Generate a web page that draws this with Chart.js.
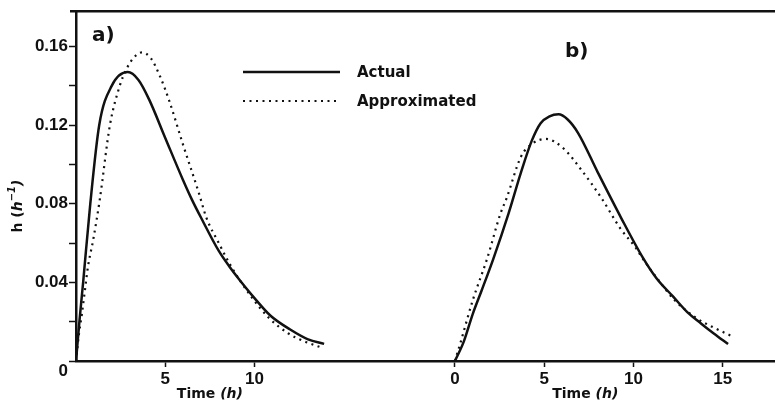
<!DOCTYPE html>
<html>
<head>
<meta charset="utf-8">
<script src="https://cdn.jsdelivr.net/npm/chart.js@4"></script>
<style>
  html, body { margin: 0; padding: 0; background: #fff; }
  #wrap { width: 775px; height: 405px; }
</style>
</head>
<body>
<div id="wrap"><canvas id="hazardChart"></canvas></div>
<script>
// panel a) - time (h) and h (1/h)
const timeActualA = [0, 0.2, 0.4, 0.8, 1.3, 2.0, 2.9, 3.5, 4.1, 5, 6, 6.5, 7, 8, 8.6, 9.1, 10, 10.9, 12, 13, 13.9];
const actualA     = [0, 0.021, 0.04, 0.08, 0.12, 0.14, 0.147, 0.143, 0.133, 0.1135, 0.092, 0.082, 0.073, 0.056, 0.048, 0.042, 0.032, 0.023, 0.016, 0.011, 0.0087];
const timeApproxA = [0, 0.17, 0.33, 0.5, 0.67, 0.96, 1.33, 1.9, 2.45, 2.8, 3.2, 3.7, 4.2, 4.7, 5.2, 6.0, 6.9, 7.3, 8.0, 8.7, 9.8, 10.8, 11.9, 12.8, 13.7];
const approxA     = [0, 0.014, 0.024, 0.036, 0.048, 0.0615, 0.082, 0.12, 0.14, 0.148, 0.154, 0.157, 0.154, 0.145, 0.133, 0.11, 0.085, 0.073, 0.06, 0.048, 0.033, 0.022, 0.014, 0.010, 0.007];

// panel b)
const timeActualB = [0, 0.5, 1.0, 1.5, 2.15, 3.0, 3.7, 4.3, 4.8, 5.3, 5.8, 6.3, 6.9, 8.0, 9.3, 10.5, 11.3, 12.2, 13.0, 13.8, 14.5, 15.3];
const actualB     = [0, 0.01, 0.024, 0.036, 0.052, 0.075, 0.096, 0.112, 0.121, 0.1245, 0.1255, 0.123, 0.116, 0.096, 0.073, 0.053, 0.042, 0.033, 0.025, 0.019, 0.014, 0.0086];
const timeApproxB = [0, 0.3, 1.0, 1.8, 2.55, 2.9, 3.7, 4.4, 5.1, 6.1, 7.1, 8.2, 9.3, 10.1, 10.6, 11.5, 12.3, 13.5, 14.5, 15.5];
const approxB     = [0, 0.009, 0.031, 0.052, 0.075, 0.083, 0.104, 0.111, 0.113, 0.108, 0.097, 0.083, 0.067, 0.058, 0.051, 0.040, 0.031, 0.022, 0.017, 0.0127];

// axis ticks
const xTicksA = [5, 10];
const xTicksB = [0, 5, 10, 15];
const yTickStep = 0.02;

// panel b) sits further along the shared time axis
const OFFSET_B = 21.23;
const X_MAX = 39.16;
const Y_MAX = 0.178;

const INK = "#111";
const NUM_FONT = "Liberation Sans";
const TXT_FONT = "DejaVu Sans";

function toPoints(times, values, offset) {
    return times.map((t, i) => ({ x: t + offset, y: values[i] }));
}

const solid = { borderColor: INK, borderWidth: 2.5, pointRadius: 0, cubicInterpolationMode: "monotone", fill: false };
const dotted = { borderColor: INK, borderWidth: 2.2, borderDash: [2, 4.5], borderCapStyle: "butt", pointRadius: 0, cubicInterpolationMode: "monotone", fill: false };

// labels, legend and frame drawn on top of the chart
const figureText = {
    id: "figureText",
    afterDraw(chart) {
        const ctx = chart.ctx;
        const area = chart.chartArea;
        const xs = chart.scales.x;
        ctx.save();
        ctx.fillStyle = INK;
        ctx.strokeStyle = INK;

        // top frame line
        ctx.lineWidth = 2.5;
        ctx.beginPath();
        ctx.moveTo(area.left - 6, area.top);
        ctx.lineTo(area.right, area.top);
        ctx.stroke();

        // "0" at the origin sits a bit low in the original
        ctx.font = "bold 17px '" + NUM_FONT + "'";
        ctx.textAlign = "right";
        ctx.textBaseline = "middle";
        ctx.fillText("0", area.left - 8, area.bottom + 10);

        // panel letters
        ctx.font = "bold 20px '" + TXT_FONT + "'";
        ctx.textAlign = "left";
        ctx.fillText("a)", 92, 36);
        ctx.fillText("b)", 565, 52);

        // legend
        ctx.lineWidth = solid.borderWidth;
        ctx.beginPath();
        ctx.moveTo(243, 72);
        ctx.lineTo(340, 72);
        ctx.stroke();
        ctx.lineWidth = dotted.borderWidth;
        ctx.setLineDash(dotted.borderDash);
        ctx.beginPath();
        ctx.moveTo(243, 101);
        ctx.lineTo(340, 101);
        ctx.stroke();
        ctx.setLineDash([]);
        ctx.font = "bold 15px '" + TXT_FONT + "'";
        ctx.fillText("Actual", 357, 73);
        ctx.fillText("Approximated", 357, 102);

        // x titles: Time (h), with italic (h)
        function timeTitle(cx) {
            const plain = "bold 14px '" + TXT_FONT + "'";
            const ital = "italic bold 14px '" + TXT_FONT + "'";
            ctx.font = plain;
            const w1 = ctx.measureText("Time ").width;
            ctx.font = ital;
            const w2 = ctx.measureText("(h)").width;
            let x0 = cx - (w1 + w2) / 2;
            ctx.font = plain;
            ctx.fillText("Time ", x0, 394);
            ctx.font = ital;
            ctx.fillText("(h)", x0 + w1, 394);
        }
        timeTitle(xs.getPixelForValue(7.5));
        timeTitle(xs.getPixelForValue(OFFSET_B + 7.3));

        // y title: h (h^-1), rotated
        ctx.translate(18, 206);
        ctx.rotate(-Math.PI / 2);
        const parts = [
            { t: "h (", f: "bold 14px '" + TXT_FONT + "'", dy: 0 },
            { t: "h", f: "italic bold 14px '" + TXT_FONT + "'", dy: 0 },
            { t: "\u2212", f: "bold 10px '" + TXT_FONT + "'", dy: -6 },
            { t: "1", f: "italic bold 10px '" + TXT_FONT + "'", dy: -6 },
            { t: ")", f: "italic bold 14px '" + TXT_FONT + "'", dy: 0 }
        ];
        let total = 0;
        parts.forEach(p => { ctx.font = p.f; p.w = ctx.measureText(p.t).width; total += p.w; });
        let px = -total / 2;
        parts.forEach(p => {
            ctx.font = p.f;
            ctx.fillText(p.t, px, p.dy);
            px += p.w;
        });
        ctx.restore();
    }
};

const ctx = document.getElementById("hazardChart").getContext("2d");
new Chart(ctx, {
    type: "line",
    data: {
        datasets: [
            Object.assign({ label: "Actual", data: toPoints(timeActualA, actualA, 0) }, solid),
            Object.assign({ label: "Approximated", data: toPoints(timeApproxA, approxA, 0) }, dotted),
            Object.assign({ label: "Actual", data: toPoints(timeActualB, actualB, OFFSET_B) }, solid),
            Object.assign({ label: "Approximated", data: toPoints(timeApproxB, approxB, OFFSET_B) }, dotted)
        ]
    },
    options: {
        responsive: true,
        maintainAspectRatio: false,
        animation: false,
        layout: { padding: { top: 10, right: 0, bottom: 0, left: 0 } },
        plugins: {
            legend: { display: false },
            tooltip: { enabled: false }
        },
        scales: {
            x: {
                type: "linear",
                min: 0,
                max: X_MAX,
                afterBuildTicks: axis => {
                    axis.ticks = xTicksA.concat(xTicksB.map(v => v + OFFSET_B)).map(v => ({ value: v }));
                },
                afterFit: axis => { axis.height = 44; },
                ticks: {
                    autoSkip: false,
                    maxRotation: 0,
                    padding: 2,
                    color: INK,
                    font: { family: NUM_FONT, size: 17, weight: "bold" },
                    callback: v => v > OFFSET_B - 1 ? String(Math.round(v - OFFSET_B)) : String(v)
                },
                grid: { drawOnChartArea: false, tickLength: 6, tickWidth: 1.5, tickColor: INK },
                border: { color: INK, width: 2.5 }
            },
            y: {
                min: 0,
                max: Y_MAX,
                afterFit: axis => { axis.width = 76; },
                ticks: {
                    stepSize: yTickStep,
                    includeBounds: false,
                    padding: 1,
                    color: INK,
                    font: { family: NUM_FONT, size: 17, weight: "bold" },
                    callback: v => {
                        const k = Math.round(v * 100);
                        return (k > 0 && k % 4 === 0) ? v.toFixed(2) : "";
                    }
                },
                grid: { drawOnChartArea: false, tickLength: 7, tickWidth: 1.5, tickColor: INK },
                border: { color: INK, width: 2.5 }
            }
        }
    },
    plugins: [figureText]
});
</script>
</body>
</html>
